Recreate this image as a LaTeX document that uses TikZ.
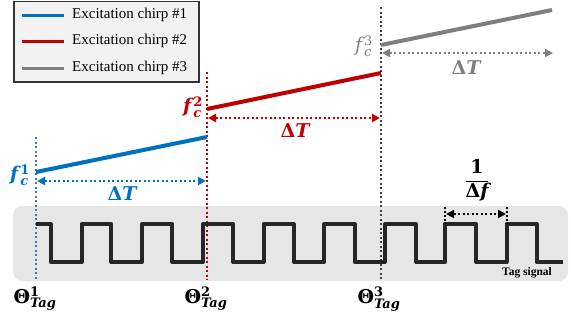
\documentclass[tikz,border=0pt]{standalone}
\usepackage{fontspec}
\setmainfont{Liberation Serif}
\newfontfamily\labfont{DejaVu Serif}
\usetikzlibrary{arrows.meta}
\definecolor{cblue}{HTML}{0070C0}
\definecolor{cblued}{HTML}{4472C4}
\definecolor{cred}{HTML}{C00000}
\definecolor{cgray}{HTML}{7F7F7F}
\definecolor{cdark}{HTML}{3F3F3F}
\definecolor{cwave}{HTML}{262626}
\definecolor{cbg}{HTML}{E6E6E6}
\definecolor{clegbg}{HTML}{F2F2F2}
\newcommand\scr[1]{\hbox{\labfont\bfseries\fontsize{13pt}{13pt}\selectfont #1}}
\newcommand\sublab[3]{{\labfont\bfseries #1}$_{\scr{\itshape #2}}^{\scr{#3}}$}
\newcommand\scrr[1]{\hbox{\labfont\mdseries\fontsize{13pt}{13pt}\selectfont #1}}
\newcommand\sublabr[3]{{\labfont\mdseries #1}$_{\scrr{\itshape #2}}^{\scrr{#3}}$}
\tikzset{
  chirp/.style={line width=4pt},
  legline/.style={line width=3pt},
  vline/.style={line width=2.2pt, dash pattern=on 2pt off 2.5pt},
  dtarrow/.style={line width=2.2pt, dash pattern=on 2pt off 2.5pt, <->, >={Triangle[length=8pt,width=8pt]}, shorten <=1pt, shorten >=1pt},
  mlabel/.style={inner sep=0pt, font=\labfont\bfseries\fontsize{19pt}{22pt}\selectfont},
  mlabelr/.style={inner sep=0pt, font=\labfont\fontseries{sb}\fontsize{19pt}{22pt}\selectfont},
  legtext/.style={anchor=west, inner sep=0pt, font=\fontsize{15pt}{17pt}\selectfont},
}
\begin{document}
\begin{tikzpicture}[x=1pt,y=-1pt]
\useasboundingbox (0,0) rectangle (571,322);

% tag signal background
\fill[cbg, rounded corners=9pt] (13,206) rectangle (568,281);

% vertical dotted markers
\coordinate (v1t) at (36,137);  \coordinate (v1b) at (36,280);
\coordinate (v2t) at (207,72);  \coordinate (v2b) at (207,280);
\coordinate (v3t) at (381,7);   \coordinate (v3b) at (381,280);
\draw[vline, cblued, line width=2pt] (v1t) -- (v1b);
\draw[vline, cred, line width=2.6pt] (v2t) -- (v2b);
\draw[vline, cdark, line width=2.6pt] (v3t) -- (v3b);

% square wave
\draw[cwave, line width=4pt, line join=round]
  (36,224) -- (50.7,224) -- (50.7,262) -- (81.5,262) -- (81.5,224)
  -- (111.2,224) -- (111.2,262) -- (142,262) -- (142,224)
  -- (172.4,224) -- (172.4,262) -- (202.8,262) -- (202.8,224)
  -- (233.2,224) -- (233.2,262) -- (263.5,262) -- (263.5,224)
  -- (293.5,224) -- (293.5,262) -- (324.3,262) -- (324.3,224)
  -- (354.6,224) -- (354.6,262) -- (385,262) -- (385,224)
  -- (416,224) -- (416,262) -- (445.3,262) -- (445.3,224)
  -- (476.3,224) -- (476.3,262) -- (506.6,262) -- (506.6,224)
  -- (536.6,224) -- (536.6,262) -- (563,262);
\node[inner sep=0pt, font=\bfseries\fontsize{11.5pt}{13pt}\selectfont] (tag) at (527,273) {Tag signal};

% chirps
\coordinate (b0) at (36,172);  \coordinate (b1) at (207,137);
\coordinate (r0) at (207,109); \coordinate (r1) at (381,73);
\coordinate (g0) at (381,45);  \coordinate (g1) at (552,10);
\draw[chirp, cblue] (b0) -- (b1);
\draw[chirp, cred] (r0) -- (r1);
\draw[chirp, cgray] (g0) -- (g1);

% Delta T arrows
\coordinate (a1l) at (36,181);  \coordinate (a1r) at (207,181);
\coordinate (a2l) at (207,118); \coordinate (a2r) at (381,118);
\coordinate (a3l) at (381,53);  \coordinate (a3r) at (554,53);
\draw[dtarrow, cblue] (a1l) -- (a1r);
\draw[dtarrow, cred] (a2l) -- (a2r);
\draw[dtarrow, cgray] (a3l) -- (a3r);
\node[mlabel, text=cblue] (dta) at (122,194) {Δ\itshape T};
\node[mlabel, text=cred] (dtb) at (295,131) {Δ\itshape T};
\node[mlabelr, text=cgray] (dtc) at (466,68) {Δ\itshape T};

% f_c labels
\node[mlabel, text=cblue] (fca) at (20,175) {\sublab{\itshape f\kern2pt}{c}{1}};
\node[mlabel, text=cred] (fcb) at (193,107) {\sublab{\itshape f\kern2pt}{c}{2}};
\node[mlabelr, text=cgray] (fcc) at (364,46) {\sublabr{\itshape f\kern2pt}{c}{3}};

% Theta labels
\node[mlabel] (tha) at (35,299) {\sublab{Θ}{Tag}{1}};
\node[mlabel] (thb) at (206,299) {\sublab{Θ}{Tag}{2}};
\node[mlabel] (thc) at (379,299) {\sublab{Θ}{Tag}{3}};

% 1/Delta f
\coordinate (p1t) at (445,207); \coordinate (p1b) at (445,224);
\coordinate (p2t) at (507,207); \coordinate (p2b) at (507,224);
\draw[line width=2pt, dash pattern=on 2pt off 2pt, black] (p1t) -- (p1b);
\draw[line width=2pt, dash pattern=on 2pt off 2pt, black] (p2t) -- (p2b);
\coordinate (pl) at (445,214); \coordinate (pr) at (507,214);
\draw[dtarrow, line width=2pt, black] (pl) -- (pr);
\node[mlabel] (frac) at (477,180) {$\displaystyle\frac{\hbox{\labfont\bfseries 1}}{\hbox{\labfont\bfseries Δ\itshape f}}$};

% legend
\draw[clegbg, fill=clegbg] (14,1.5) rectangle (199,82);
\draw[line width=1.5pt, draw=black!80] (14,1.5) rectangle (199,82);
\coordinate (l1a) at (22,15); \coordinate (l1b) at (64,15);
\coordinate (l2a) at (22,41); \coordinate (l2b) at (64,41);
\coordinate (l3a) at (22,68); \coordinate (l3b) at (64,68);
\draw[legline, cblue] (l1a) -- (l1b);
\draw[legline, cred] (l2a) -- (l2b);
\draw[legline, cgray] (l3a) -- (l3b);
\node[legtext] (t1) at (72,15) {Excitation chirp \#1};
\node[legtext] (t2) at (72,41) {Excitation chirp \#2};
\node[legtext] (t3) at (72,68) {Excitation chirp \#3};
\end{tikzpicture}
\end{document}
